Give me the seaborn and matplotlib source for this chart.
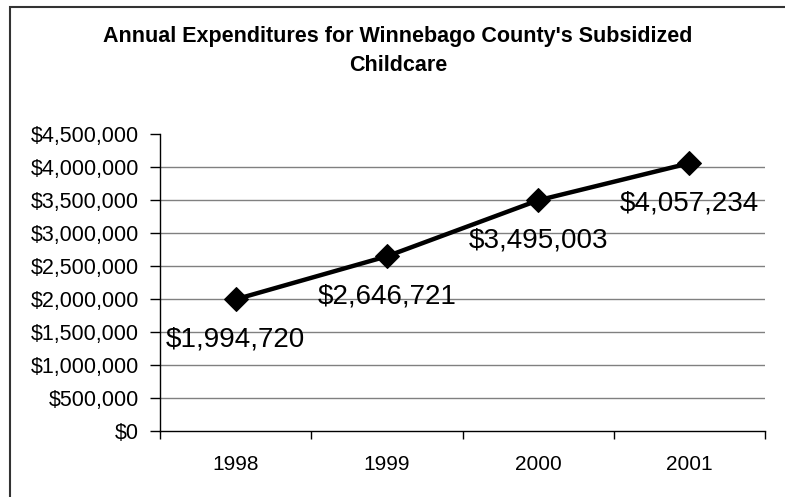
import matplotlib
matplotlib.use("Agg")
import matplotlib.pyplot as plt
import matplotlib.patches as patches
from matplotlib.ticker import FuncFormatter, MultipleLocator, FixedLocator
import seaborn as sns
import pandas as pd

# data
years = ["1998", "1999", "2000", "2001"]
spending = [1994720, 2646721, 3495003, 4057234]
y_ticks = [0, 500000, 1000000, 1500000, 2000000, 2500000, 3000000, 3500000, 4000000, 4500000]

df = pd.DataFrame({"Year": years, "Spending": spending})

sns.set_style("white", {"xtick.bottom": True, "ytick.left": True})
plt.rcParams["font.family"] = ["Liberation Sans", "DejaVu Sans"]

fig = plt.figure(figsize=(7.85, 4.97), dpi=100)
ax = fig.add_axes([160 / 785, 1 - 431 / 497, 605 / 785, 297 / 497])

# outer chart border (cut off at the right and bottom like the reference)
fig.patches.append(patches.Rectangle((10 / 785, -0.5), 2.0, 1.5 - 7 / 497,
                                     transform=fig.transFigure, fill=False,
                                     edgecolor="#333333", linewidth=1.5))

sns.lineplot(data=df, x="Year", y="Spending", ax=ax, color="black",
             linewidth=3.2, marker="D", markersize=12, markeredgecolor="black",
             zorder=3)

for i, v in enumerate(spending):
    ax.annotate(f"${v:,.0f}", (i, v), xytext=(0, -40), textcoords="offset pixels",
                ha="center", va="center", fontsize=20, color="black", zorder=4)

ax.set_xlim(-0.5, len(years) - 0.5)
ax.set_ylim(0, 4500000)
ax.yaxis.set_major_locator(FixedLocator(y_ticks))
ax.yaxis.set_major_formatter(FuncFormatter(lambda v, p: f"${v:,.0f}"))

# horizontal gridlines (none on the top value)
for t in y_ticks[1:-1]:
    ax.axhline(t, color="#808080", linewidth=1.0, zorder=1)

ax.xaxis.set_minor_locator(MultipleLocator(1, offset=0.5))
ax.tick_params(axis="x", which="major", bottom=True, length=0, pad=17,
               labelsize=15, labelcolor="black")
ax.tick_params(axis="x", which="minor", bottom=True, length=6, width=1,
               direction="out", color="black")
ax.tick_params(axis="y", which="major", left=True, length=7, width=1, direction="out",
               color="black", pad=8, labelsize=15.5, labelcolor="black")
ax.set_xlabel("")
ax.set_ylabel("")

for side in ["top", "right"]:
    ax.spines[side].set_visible(False)
for side in ["left", "bottom"]:
    ax.spines[side].set_color("black")
    ax.spines[side].set_linewidth(1.0)

fig.text(398 / 785, 1 - 51 / 497,
         "Annual Expenditures for Winnebago County's Subsidized\nChildcare",
         ha="center", va="center", fontsize=15.5, fontweight="bold",
         linespacing=1.55, color="black")

fig.savefig("out.png", dpi=100)
